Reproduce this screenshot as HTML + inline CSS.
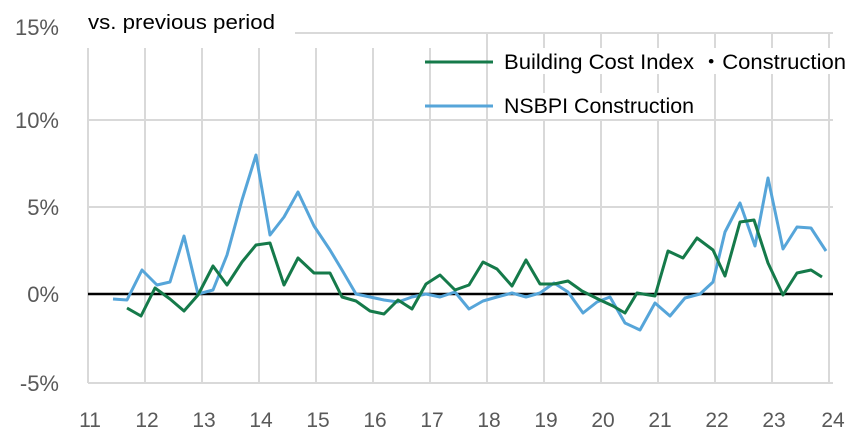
<!DOCTYPE html>
<html><head><meta charset="utf-8"><style>
html,body{margin:0;padding:0;background:#fff;}
svg{display:block;font-family:"Liberation Sans",sans-serif;}
</style></head><body>
<svg width="864" height="446" viewBox="0 0 864 446">
<g stroke="#d9d9d9" stroke-width="2" fill="none">
<line x1="295" y1="33" x2="833" y2="33"/>
<line x1="88" y1="120" x2="833" y2="120"/>
<line x1="88" y1="207" x2="833" y2="207"/>
<line x1="88" y1="383" x2="833" y2="383"/>
<line x1="88" y1="48" x2="88" y2="383"/>
<line x1="145" y1="48" x2="145" y2="383"/>
<line x1="202" y1="48" x2="202" y2="383"/>
<line x1="259" y1="48" x2="259" y2="383"/>
<line x1="316" y1="48" x2="316" y2="383"/>
<line x1="373" y1="48" x2="373" y2="383"/>
<line x1="430" y1="48" x2="430" y2="383"/>
<line x1="487" y1="33" x2="487" y2="383"/>
<line x1="544" y1="33" x2="544" y2="383"/>
<line x1="601" y1="33" x2="601" y2="383"/>
<line x1="658" y1="33" x2="658" y2="383"/>
<line x1="715" y1="33" x2="715" y2="383"/>
<line x1="772" y1="33" x2="772" y2="383"/>
<line x1="829" y1="33" x2="829" y2="383"/>
</g>
<rect x="500" y="48" width="350" height="26" fill="#fff"/>
<rect x="500" y="93" width="196" height="26" fill="#fff"/>
<line x1="88" y1="294" x2="833" y2="294" stroke="#000" stroke-width="2.5"/>
<polyline fill="none" stroke="#56a5d9" stroke-width="3" stroke-linejoin="round" points="113,299 127,300 142,270 157,285 170,282 184,236 198,294 213,290 227,255 242,200 256,155 270,235 284,217 298,192 314,226 330,250 342,270 356,294 370,297 384,300 398,302 412,297 426,294 440,297 455,292 469,309 483,301 497,297 512,293 526,297 540,293 554,283 568,292 583,313 597,302 610,297 625,323 640,330 655,303 670,316 685,298 700,294 713,282 725,232 740,203 755,246 768,178 783,249 797,227 811,228 826,251"/>
<polyline fill="none" stroke="#157a4a" stroke-width="3" stroke-linejoin="round" points="127,308 141,316 155,288 170,299 184,311 198,295 213,266 227,285 242,262 256,245 270,243 284,285 298,258 314,273 330,273 342,297 356,301 370,311 384,314 398,300 412,309 426,284 440,275 455,290 469,285 483,262 497,269 512,286 526,260 540,284 554,284 568,281 582,291 600,300 613,306 625,313 637,293 655,296 668,251 683,258 697,238 713,250 725,276 740,222 754,220 768,263 783,295 797,273 811,270 822,277"/>
<line x1="425" y1="62" x2="493" y2="62" stroke="#157a4a" stroke-width="3"/>
<line x1="425" y1="106" x2="493" y2="106" stroke="#56a5d9" stroke-width="3"/>
<g fill="#000" font-size="21">
<text x="504" y="69" textLength="342" lengthAdjust="spacingAndGlyphs">Building Cost Index ・Construction</text>
<text x="504" y="113" textLength="190" lengthAdjust="spacingAndGlyphs">NSBPI Construction</text>
<text x="88" y="29" font-size="20" textLength="187" lengthAdjust="spacingAndGlyphs">vs. previous period</text>
</g>
<g fill="#595959" font-size="22" text-anchor="end">
<text x="59" y="35">15%</text>
<text x="59" y="128">10%</text>
<text x="59" y="215">5%</text>
<text x="59" y="302">0%</text>
<text x="59" y="391">-5%</text>
</g>
<g fill="#595959" font-size="21" text-anchor="middle">
<text x="90" y="427">11</text><text x="147" y="427">12</text><text x="204" y="427">13</text><text x="261" y="427">14</text><text x="318" y="427">15</text><text x="375" y="427">16</text><text x="432" y="427">17</text><text x="489" y="427">18</text><text x="546" y="427">19</text><text x="603" y="427">20</text><text x="660" y="427">21</text><text x="717" y="427">22</text><text x="774" y="427">23</text><text x="833" y="427">24</text>
</g>
</svg>
</body></html>
